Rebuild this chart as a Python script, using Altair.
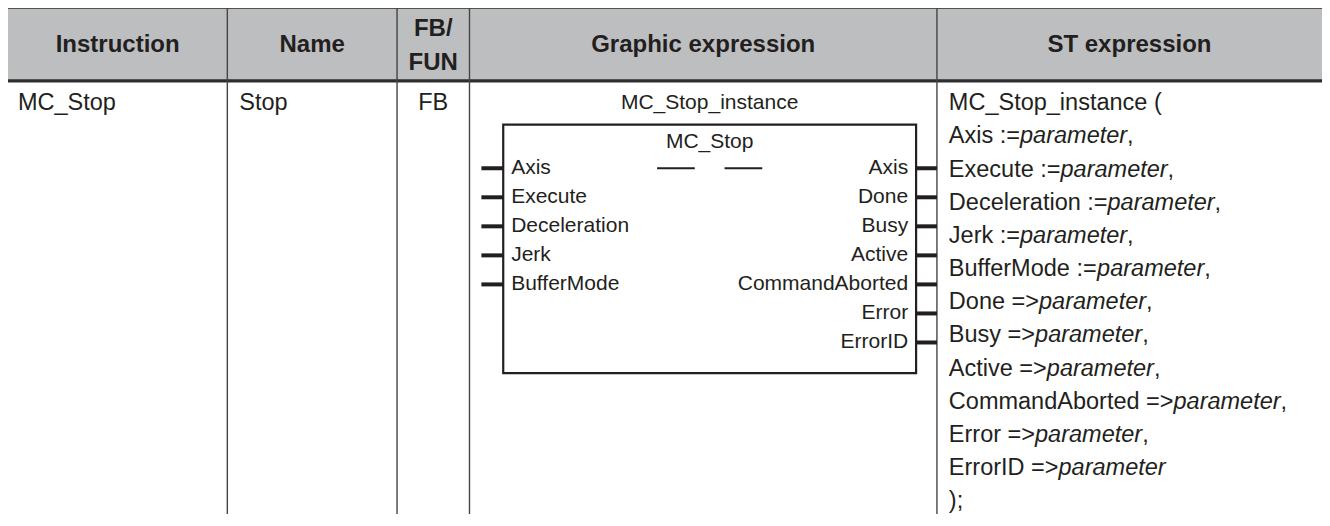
import altair as alt
import pandas as pd

# ---------------- content ----------------
HEADERS = ["Instruction", "Name", "FB/", "FUN", "Graphic expression", "ST expression"]
ROW_TEXT = ["MC_Stop", "Stop", "FB"]
INSTANCE = "MC_Stop_instance"
FB_NAME = "MC_Stop"
INPUTS = ["Axis", "Execute", "Deceleration", "Jerk", "BufferMode"]
OUTPUTS = ["Axis", "Done", "Busy", "Active", "CommandAborted", "Error", "ErrorID"]
ST_PREFIX = ["MC_Stop_instance (", "Axis :=", "Execute :=", "Deceleration :=", "Jerk :=",
             "BufferMode :=", "Done =>", "Busy =>", "Active =>", "CommandAborted =>",
             "Error =>", "ErrorID =>", ");"]
ST_ITALIC = ["", "parameter", "parameter", "parameter", "parameter", "parameter",
             "parameter", "parameter", "parameter", "parameter", "parameter", "parameter", ""]
ST_SUFFIX = ["", ",", ",", ",", ",", ",", ",", ",", ",", ",", ",", "", ""]

# ---------------- layout (reference pixel grid) ----------------
COL_EDGES = [5, 226, 397, 470, 941, 1329]
HEADER_TOP, HEADER_BOTTOM, TABLE_BOTTOM = 5, 80, 526
HEADER_MID, FB_LINE1, FB_LINE2 = 43, 27, 62
ROW_Y = 103
TEXT_PAD = 10
ST_STEP = 34.17
BOX_X0, BOX_Y0, BOX_X1, BOX_Y1 = 504, 125, 920, 381
BOX_TITLE_Y = 143
PIN_Y0, PIN_STEP, PIN_LEN = 170, 29.9, 22
LABEL_PAD = 8
DASH_W, DASH_GAP = 38, 30

W, H = 1314, 506
FONT = "Liberation Sans"
INK = "#231f20"
BODY_SIZE, HEAD_SIZE, FB_SIZE = 23.5, 24, 21

XDOM = [COL_EDGES[0], COL_EDGES[-1]]
YDOM = [HEADER_TOP, TABLE_BOTTOM]
PX_PER_X = W / (XDOM[1] - XDOM[0])

# Arial / Liberation Sans advance widths (1/1000 em)
AW = {" ": 278, "(": 333, ")": 333, ",": 278, ":": 278, ";": 278, "=": 584, ">": 584, "_": 556,
      "A": 667, "B": 667, "C": 722, "D": 722, "E": 667, "I": 278, "J": 500, "M": 833, "S": 667,
      "a": 556, "b": 556, "c": 500, "d": 556, "e": 556, "f": 278, "g": 556, "i": 222, "k": 500,
      "l": 222, "m": 833, "n": 556, "o": 556, "p": 556, "r": 333, "s": 500, "t": 278, "u": 556,
      "v": 500, "x": 500, "y": 500}


def text_w(s, size):
    return sum(AW.get(ch, 556) for ch in s) / 1000.0 * size / PX_PER_X


xs = alt.Scale(domain=XDOM, zero=False, nice=False)
ys = alt.Scale(domain=YDOM, zero=False, nice=False, reverse=True)


def X(f="x"):
    return alt.X(f"{f}:Q", scale=xs, axis=None)


def Y(f="y"):
    return alt.Y(f"{f}:Q", scale=ys, axis=None)


# ---------------- data frames ----------------
header_bg = pd.DataFrame({"x": [COL_EDGES[0]], "x2": [COL_EDGES[-1]],
                          "y": [HEADER_TOP], "y2": [HEADER_BOTTOM]})

hcx = [(COL_EDGES[i] + COL_EDGES[i + 1]) / 2 for i in range(5)]
head_df = pd.DataFrame({
    "t": HEADERS,
    "x": [hcx[0], hcx[1], hcx[2], hcx[2], hcx[3], hcx[4]],
    "y": [HEADER_MID, HEADER_MID, FB_LINE1, FB_LINE2, HEADER_MID, HEADER_MID],
})

hlines = pd.DataFrame({"x": [COL_EDGES[0]] * 2, "x2": [COL_EDGES[-1]] * 2,
                       "y": [HEADER_TOP, HEADER_BOTTOM], "y2": [HEADER_TOP, HEADER_BOTTOM],
                       "w": [1.6, 3.2]})

vlines = pd.DataFrame({"x": COL_EDGES[1:-1], "x2": COL_EDGES[1:-1],
                       "y": [HEADER_TOP] * 4, "y2": [TABLE_BOTTOM] * 4})

row_left = pd.DataFrame({"t": ROW_TEXT[:2],
                         "x": [COL_EDGES[0] + TEXT_PAD, COL_EDGES[1] + TEXT_PAD + 2],
                         "y": [ROW_Y, ROW_Y]})
row_center = pd.DataFrame({"t": [ROW_TEXT[2]], "x": [hcx[2]], "y": [ROW_Y]})

box_cx = (BOX_X0 + BOX_X1) / 2
fb_center = pd.DataFrame({"t": [INSTANCE, FB_NAME], "x": [box_cx, box_cx],
                          "y": [ROW_Y, BOX_TITLE_Y]})
box_df = pd.DataFrame({"x": [BOX_X0], "x2": [BOX_X1], "y": [BOX_Y0], "y2": [BOX_Y1]})

dash_df = pd.DataFrame({
    "x": [box_cx - DASH_GAP / 2 - DASH_W, box_cx + DASH_GAP / 2],
    "x2": [box_cx - DASH_GAP / 2, box_cx + DASH_GAP / 2 + DASH_W],
    "y": [PIN_Y0, PIN_Y0], "y2": [PIN_Y0, PIN_Y0]})

in_y = [PIN_Y0 + PIN_STEP * i for i in range(len(INPUTS))]
out_y = [PIN_Y0 + PIN_STEP * i for i in range(len(OUTPUTS))]
pins = pd.DataFrame({
    "x": [BOX_X0 - PIN_LEN] * len(INPUTS) + [BOX_X1] * len(OUTPUTS),
    "x2": [BOX_X0] * len(INPUTS) + [COL_EDGES[4]] * len(OUTPUTS),
    "y": in_y + out_y, "y2": in_y + out_y})
in_lab = pd.DataFrame({"t": INPUTS, "x": [BOX_X0 + LABEL_PAD] * len(INPUTS), "y": in_y})
out_lab = pd.DataFrame({"t": OUTPUTS, "x": [BOX_X1 - LABEL_PAD] * len(OUTPUTS), "y": out_y})

st_x0 = COL_EDGES[4] + TEXT_PAD + 2
st_rows = []
for i, (p, it, s) in enumerate(zip(ST_PREFIX, ST_ITALIC, ST_SUFFIX)):
    y = ROW_Y + ST_STEP * i
    xp = st_x0
    xi = xp + text_w(p, BODY_SIZE)
    xsuf = xi + text_w(it, BODY_SIZE)
    st_rows.append({"t": p, "x": xp, "y": y, "style": "normal"})
    if it:
        st_rows.append({"t": it, "x": xi, "y": y, "style": "italic"})
    if s:
        st_rows.append({"t": s, "x": xsuf, "y": y, "style": "normal"})
st_df = pd.DataFrame(st_rows)
st_norm = st_df[st_df["style"] == "normal"]
st_ital = st_df[st_df["style"] == "italic"]

# ---------------- layers ----------------
bg = alt.Chart(header_bg).mark_rect(color="#bdbec0").encode(x=X(), x2="x2", y=Y(), y2="y2")
hl = alt.Chart(hlines).mark_rule(color="#2e2e2e").encode(
    x=X(), x2="x2", y=Y(), y2="y2", strokeWidth=alt.StrokeWidth("w:Q", scale=None, legend=None))
vl = alt.Chart(vlines).mark_rule(color="#454545", strokeWidth=1.4).encode(x=X(), x2="x2", y=Y(), y2="y2")

head = alt.Chart(head_df).mark_text(font=FONT, fontSize=HEAD_SIZE, fontWeight="bold", color=INK,
                                    align="center", baseline="middle").encode(x=X(), y=Y(), text="t:N")

rl = alt.Chart(row_left).mark_text(font=FONT, fontSize=BODY_SIZE, color=INK, align="left",
                                   baseline="middle").encode(x=X(), y=Y(), text="t:N")
rc = alt.Chart(row_center).mark_text(font=FONT, fontSize=BODY_SIZE, color=INK, align="center",
                                     baseline="middle").encode(x=X(), y=Y(), text="t:N")

fbt = alt.Chart(fb_center).mark_text(font=FONT, fontSize=FB_SIZE, color=INK, align="center",
                                     baseline="middle").encode(x=X(), y=Y(), text="t:N")
box = alt.Chart(box_df).mark_rect(fillOpacity=0, stroke=INK, strokeWidth=2.2).encode(
    x=X(), x2="x2", y=Y(), y2="y2")
dash = alt.Chart(dash_df).mark_rule(color=INK, strokeWidth=2).encode(x=X(), x2="x2", y=Y(), y2="y2")
pin = alt.Chart(pins).mark_rule(color=INK, strokeWidth=4, strokeCap="butt").encode(
    x=X(), x2="x2", y=Y(), y2="y2")
inl = alt.Chart(in_lab).mark_text(font=FONT, fontSize=FB_SIZE, color=INK, align="left",
                                  baseline="middle").encode(x=X(), y=Y(), text="t:N")
outl = alt.Chart(out_lab).mark_text(font=FONT, fontSize=FB_SIZE, color=INK, align="right",
                                    baseline="middle").encode(x=X(), y=Y(), text="t:N")

stn = alt.Chart(st_norm).mark_text(font=FONT, fontSize=BODY_SIZE, color=INK, align="left",
                                   baseline="middle").encode(x=X(), y=Y(), text="t:N")
sti = alt.Chart(st_ital).mark_text(font=FONT, fontSize=BODY_SIZE, fontStyle="italic", color=INK,
                                   align="left", baseline="middle").encode(x=X(), y=Y(), text="t:N")

chart = alt.layer(bg, hl, vl, head, rl, rc, fbt, box, dash, pin, inl, outl, stn, sti).properties(
    width=W, height=H, padding=0, autosize=alt.AutoSizeParams(type="none"),
    background="white",
).configure_view(strokeWidth=0)

chart.save("out.html", embed_options={"renderer": "svg", "actions": False})
